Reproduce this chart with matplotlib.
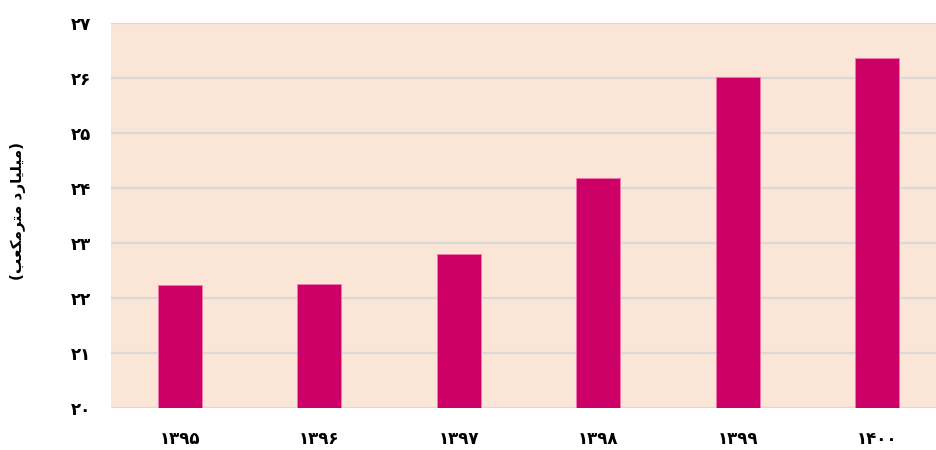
import matplotlib
matplotlib.use('Agg')
import matplotlib.pyplot as plt
import numpy as np

# data
years = ['۱۳۹۵', '۱۳۹۶', '۱۳۹۷', '۱۳۹۸', '۱۳۹۹', '۱۴۰۰']
values = [22.24, 22.25, 22.80, 24.18, 26.02, 26.36]
yticks = [20, 21, 22, 23, 24, 25, 26, 27]
yticklabels = ['۲۰', '۲۱', '۲۲', '۲۳', '۲۴', '۲۵', '۲۶', '۲۷']

# "(میلیارد مترمکعب)" pre-shaped into presentation forms, visual order
word1 = '\uFEE3\uFBFF\uFEE0\uFBFF\uFE8E\uFEAD\uFEA9'   # میلیارد
word2 = '\uFEE3\uFE98\uFEAE\uFEE3\uFB91\uFECC\uFE90'   # مترمکعب
ylabel = '(' + (word1 + ' ' + word2)[::-1] + ')'

bar_color = '#CC0066'
bg_color = '#FBE5D6'
grid_color = '#D9D9D9'

plt.rcParams['font.family'] = ['DejaVu Sans']

fig = plt.figure(figsize=(9.37, 4.5), dpi=100)
ax = fig.add_axes([0.1185, 0.0933, 0.88, 0.8556])
ax.set_facecolor(bg_color)

x = np.arange(len(years))
ax.bar(x, values, width=0.316, bottom=0, color=bar_color,
       edgecolor='#F27AAE', linewidth=0.6, zorder=3)

ax.set_ylim(20, 27)
ax.set_xlim(-0.495, 5.42)
ax.set_yticks(yticks)
ax.set_yticklabels(yticklabels, fontsize=12, fontweight='bold')
ax.set_xticks(x)
ax.set_xticklabels(years, fontsize=12, fontweight='bold')

ax.grid(axis='y', color=grid_color, linewidth=1.6, zorder=1)
ax.set_axisbelow(True)
ax.tick_params(axis='both', length=0)
ax.tick_params(axis='y', pad=14)
ax.tick_params(axis='x', pad=16)
for s in ax.spines.values():
    s.set_visible(False)

fig.text(0.019, 0.532, ylabel, rotation=90, ha='center', va='center',
         fontsize=11, fontweight='bold')

fig.savefig('out.png', dpi=100, facecolor='white')
